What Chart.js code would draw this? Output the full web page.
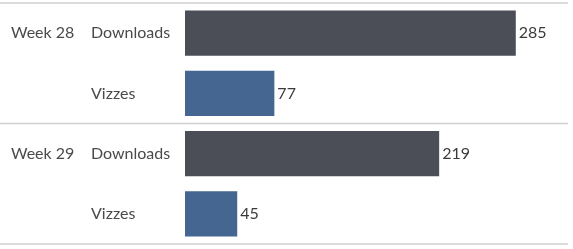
<!DOCTYPE html>
<html><head><meta charset="utf-8">
<script src="https://cdn.jsdelivr.net/npm/chart.js@4"></script>
<style>html,body{margin:0;padding:0;background:#fff}#w{width:573px;height:249px}</style>
</head><body><div id="w"><canvas id="c"></canvas></div>
<script>
const measures = ['Downloads', 'Vizzes', 'Downloads', 'Vizzes'];
const weeks = ['Week 28', '', 'Week 29', ''];
const values = [285, 77, 219, 45];
const barColors = ['#4b4d57', '#456690', '#4b4d57', '#456690'];
const axisMax = 330;

const FONT = 'Lato, "Noto Sans", sans-serif';
const TXT = '#4a4a4a';

const linesPlugin = {
  id: 'sep',
  afterDraw(chart) {
    const y = chart.scales.y, ctx = chart.ctx;
    const ys = [y.getPixelForValue(-0.5), y.getPixelForValue(1.5), y.getPixelForValue(3.5)];
    ctx.save();
    ctx.strokeStyle = '#d0d0d0';
    ctx.lineWidth = 1.5;
    ys.forEach(p => { ctx.beginPath(); ctx.moveTo(0, p); ctx.lineTo(chart.chartArea.right, p); ctx.stroke(); });
    ctx.restore();
  }
};
const labelsPlugin = {
  id: 'vals',
  afterDatasetsDraw(chart) {
    const ctx = chart.ctx, meta = chart.getDatasetMeta(0);
    ctx.save();
    ctx.font = '16px ' + FONT;
    ctx.fillStyle = '#3a3a3a';
    ctx.textBaseline = 'middle';
    meta.data.forEach((b, i) => ctx.fillText(String(values[i]), b.x + 3, b.y));
    ctx.restore();
  }
};

function fitAxis(w) {
  return function (s) { s.width = w; s.paddingTop = 0; s.paddingBottom = 0; };
}

new Chart(document.getElementById('c'), {
  type: 'bar',
  data: { labels: measures, datasets: [{ data: values, backgroundColor: barColors, categoryPercentage: 1, barPercentage: 0.75 }] },
  options: {
    indexAxis: 'y', responsive: true, maintainAspectRatio: false, animation: false,
    layout: { padding: { left: 11, right: 5, top: 3, bottom: 5 } },
    plugins: { legend: { display: false }, tooltip: { enabled: false } },
    scales: {
      x: { display: false, min: 0, max: axisMax },
      y: {
        type: 'category', position: 'left', weight: 0,
        grid: { display: false }, border: { display: false },
        ticks: { crossAlign: 'far', color: TXT, font: { family: FONT, size: 16 }, padding: 0 },
        afterFit: fitAxis(94)
      },
      w: {
        type: 'category', position: 'left', weight: 1, labels: weeks, axis: 'y',
        grid: { display: false }, border: { display: false },
        ticks: { crossAlign: 'far', color: TXT, font: { family: FONT, size: 16 }, padding: 0, autoSkip: false },
        afterFit: fitAxis(80)
      }
    }
  },
  plugins: [linesPlugin, labelsPlugin]
});
</script></body></html>
